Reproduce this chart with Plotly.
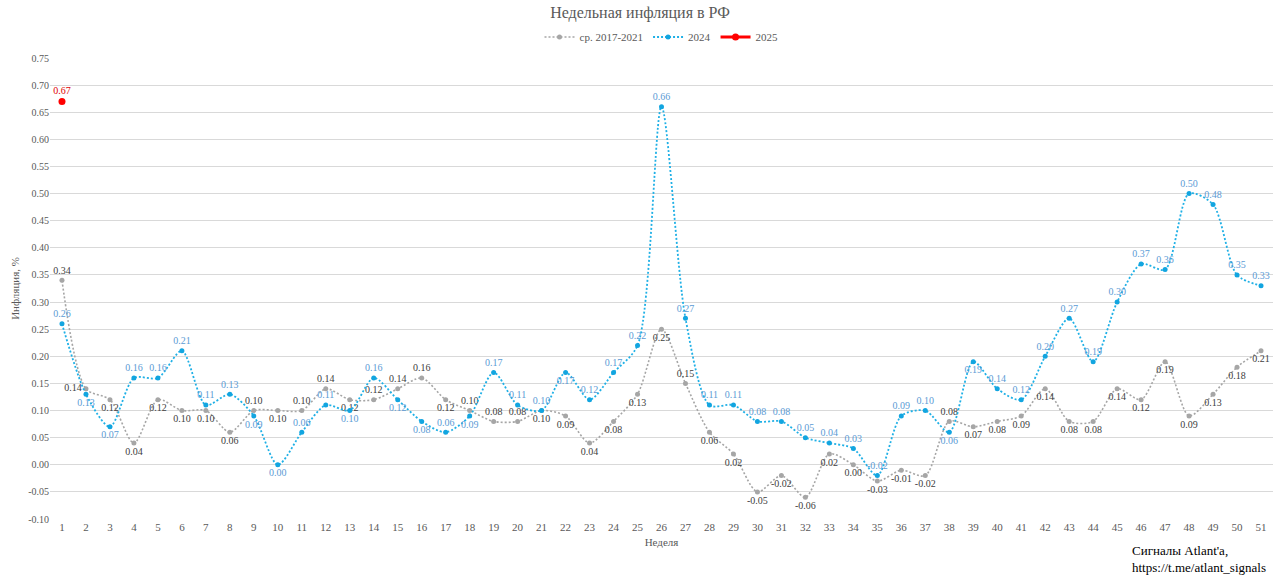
import plotly.graph_objects as go

weeks = list(range(1, 52))
avg_2017_2021 = [0.34, 0.14, 0.12, 0.04, 0.12, 0.10, 0.10, 0.06, 0.10, 0.10,
                 0.10, 0.14, 0.12, 0.12, 0.14, 0.16, 0.12, 0.10, 0.08, 0.08,
                 0.10, 0.09, 0.04, 0.08, 0.13, 0.25, 0.15, 0.06, 0.02, -0.05,
                 -0.02, -0.06, 0.02, 0.00, -0.03, -0.01, -0.02, 0.08, 0.07, 0.08,
                 0.09, 0.14, 0.08, 0.08, 0.14, 0.12, 0.19, 0.09, 0.13, 0.18, 0.21]
y2024 = [0.26, 0.13, 0.07, 0.16, 0.16, 0.21, 0.11, 0.13, 0.09, 0.00,
         0.06, 0.11, 0.10, 0.16, 0.12, 0.08, 0.06, 0.09, 0.17, 0.11,
         0.10, 0.17, 0.12, 0.17, 0.22, 0.66, 0.27, 0.11, 0.11, 0.08,
         0.08, 0.05, 0.04, 0.03, -0.02, 0.09, 0.10, 0.06, 0.19, 0.14,
         0.12, 0.20, 0.27, 0.19, 0.30, 0.37, 0.36, 0.50, 0.48, 0.35, 0.33]
weeks_2025 = [1]
y2025 = [0.67]
y_ticks = [round(-0.10 + 0.05 * i, 2) for i in range(18)]

# label placement (style only)
avg_top = {1, 9, 11, 12, 14, 15, 16, 18, 19, 20, 27, 38}
avg_left = {2}
y24_bottom = {2, 3, 9, 10, 13, 15, 16, 18, 22, 38, 39}

def avg_pos(w):
    if w in avg_left:
        return "middle left"
    return "top center" if w in avg_top else "bottom center"

def y24_pos(w):
    return "bottom center" if w in y24_bottom else "top center"

SERIF = "Liberation Serif, Times New Roman, serif"
DOTS = "2px,2px"

fig = go.Figure()
fig.add_trace(go.Scatter(
    x=weeks, y=avg_2017_2021, name="ср. 2017-2021",
    mode="lines+markers+text",
    line=dict(color="#a6a6a6", width=1.6, dash=DOTS, shape="spline", smoothing=0.8),
    marker=dict(color="#a6a6a6", size=5),
    text=[f"{v:.2f}" for v in avg_2017_2021],
    textposition=[avg_pos(w) for w in weeks],
    textfont=dict(family=SERIF, size=10, color="#404040"),
    cliponaxis=False,
))
fig.add_trace(go.Scatter(
    x=weeks, y=y2024, name="2024",
    mode="lines+markers+text",
    line=dict(color="#1fb0e6", width=1.8, dash=DOTS, shape="spline", smoothing=0.8),
    marker=dict(color="#12a5e0", size=5),
    text=[f"{v:.2f}" for v in y2024],
    textposition=[y24_pos(w) for w in weeks],
    textfont=dict(family=SERIF, size=10, color="#5b9bd5"),
    cliponaxis=False,
))
fig.add_trace(go.Scatter(
    x=weeks_2025, y=y2025, name="2025",
    mode="lines+markers+text",
    line=dict(color="#ff0000", width=3),
    marker=dict(color="#ff0000", size=7),
    text=[f"{v:.2f}" for v in y2025],
    textposition="top center",
    textfont=dict(family=SERIF, size=10, color="#e00000"),
    cliponaxis=False,
))

fig.update_layout(
    width=1280, height=575,
    margin=dict(l=50, r=7, t=58, b=56, autoexpand=False),
    paper_bgcolor="white", plot_bgcolor="white",
    title=dict(text="Недельная инфляция в РФ", x=0.5, xanchor="center",
               y=1 - 12 / 575, yanchor="middle",
               font=dict(family=SERIF, size=16, color="#595959")),
    legend=dict(orientation="h", x=0.5, xanchor="center", y=1 + 21 / 461, yanchor="middle",
                font=dict(family=SERIF, size=11, color="#595959"),
                itemwidth=30, tracegroupgap=0),
    font=dict(family=SERIF, color="#595959"),
    xaxis=dict(
        title=dict(text="Неделя", font=dict(family=SERIF, size=11, color="#595959"),
                   standoff=6),
        tickmode="array", tickvals=weeks, ticktext=[str(w) for w in weeks],
        range=[0.5, 51.5], showgrid=False, zeroline=False,
        showline=False, ticks="", automargin=False,
        tickfont=dict(family=SERIF, size=11, color="#595959"),
    ),
    yaxis=dict(
        title=dict(text="Инфляция, %", font=dict(family=SERIF, size=11, color="#595959"),
                   standoff=6),
        tickmode="array", tickvals=y_ticks, ticktext=[f"{v:.2f}" for v in y_ticks],
        range=[-0.10, 0.75], showgrid=True, gridcolor="#d9d9d9", gridwidth=1,
        zeroline=False, showline=False, ticks="", automargin=False,
        tickfont=dict(family=SERIF, size=10, color="#595959"),
    ),
)

fig.add_annotation(
    text="Сигналы Atlant'a,<br>https://t.me/atlant_signals",
    xref="paper", yref="paper", x=(1130 - 50) / 1223, y=-(541 - 519) / 461,
    xanchor="left", yanchor="top",
    showarrow=False, align="left",
    font=dict(family=SERIF, size=13, color="#000000"),
)

fig.write_html("out.html", config={"displayModeBar": False},
               post_script="document.body.style.margin='0';document.body.style.overflow='hidden';")
